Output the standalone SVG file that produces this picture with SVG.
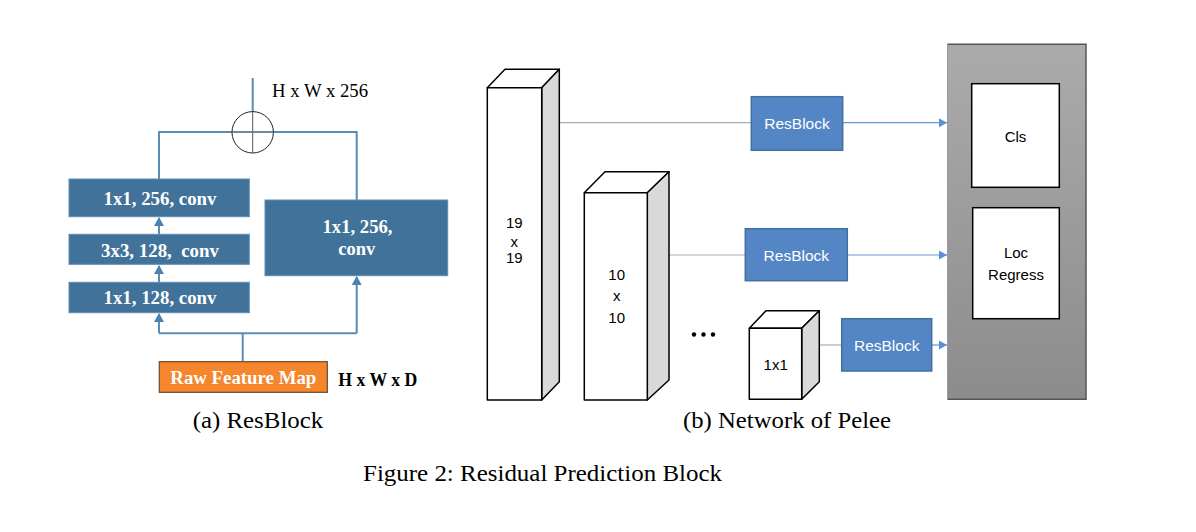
<svg xmlns="http://www.w3.org/2000/svg" width="1196" height="532" viewBox="0 0 1196 532">
<style>
.cv{fill:#41739A;stroke:#5F8DB3;stroke-width:1}
.cvt{font-family:"Liberation Serif",serif;font-weight:bold;font-size:18px;fill:#fff;text-anchor:middle}
.ln{fill:none;stroke:#5A8CB6;stroke-width:2}
.rb{fill:#5486C6;stroke:#41719C;stroke-width:1.5}
.rbt{font-family:"Liberation Sans",sans-serif;font-size:15.5px;fill:#fff;text-anchor:middle}
.cube{fill:#fff;stroke:#000;stroke-width:1.5;stroke-linejoin:round}
.side{fill:#D9D9D9;stroke:#000;stroke-width:1.5;stroke-linejoin:round}
.ct{font-family:"Liberation Sans",sans-serif;font-size:15px;fill:#000;text-anchor:middle}
.gl{fill:none;stroke:#A3AEBC;stroke-width:1.2}
.bl{fill:none;stroke:#6B96CF;stroke-width:1.2}
.cap{font-family:"Liberation Serif",serif;font-size:23.5px;fill:#000}
</style>
<defs>
<marker id="ah" markerWidth="10" markerHeight="10" refX="8" refY="5" orient="auto" markerUnits="userSpaceOnUse"><path d="M0,0 L9,5 L0,10 z" fill="#4E82AE"/></marker>
<marker id="ab" markerWidth="10" markerHeight="10" refX="8" refY="4.5" orient="auto" markerUnits="userSpaceOnUse"><path d="M0,0 L8,4.5 L0,9 z" fill="#5B8FD6"/></marker>
<linearGradient id="pg" x1="0" y1="0" x2="0" y2="1"><stop offset="0" stop-color="#ABABAB"/><stop offset="1" stop-color="#8C8C8C"/></linearGradient>
</defs>
<g id="connectors">
<line class="ln" x1="252.7" y1="78" x2="252.7" y2="112"/>
<polyline class="ln" points="159,179 159,132 356.7,132 356.7,200"/>
<line class="ln" x1="159" y1="234" x2="159" y2="218" marker-end="url(#ah)"/>
<line class="ln" x1="159" y1="282" x2="159" y2="266" marker-end="url(#ah)"/>
<polyline class="ln" points="242.7,361.7 242.7,333.3"/>
<polyline class="ln" points="159,333.3 356.7,333.3"/>
<line class="ln" x1="159" y1="333.3" x2="159" y2="314" marker-end="url(#ah)"/>
<line class="ln" x1="356.7" y1="333.3" x2="356.7" y2="277" marker-end="url(#ah)"/>
<line class="gl" x1="559.3" y1="122.7" x2="751.3" y2="122.7"/>
<line class="gl" x1="669" y1="255" x2="745.3" y2="255"/>
<line class="gl" x1="819.3" y1="345" x2="841.7" y2="345"/>
<line class="bl" x1="842.7" y1="122.7" x2="947" y2="122.7" marker-end="url(#ab)"/>
<line class="bl" x1="847.3" y1="255" x2="947" y2="255" marker-end="url(#ab)"/>
<line class="bl" x1="931.7" y1="345" x2="947" y2="345" marker-end="url(#ab)"/>
</g>
<g id="sum">
<circle cx="252.7" cy="132.3" r="20.7" fill="none" stroke="#222" stroke-width="1"/>
<line x1="252.7" y1="111.6" x2="252.7" y2="153" stroke="#555" stroke-width="1"/>
<line x1="232" y1="132.3" x2="273.4" y2="132.3" stroke="#888" stroke-width="1"/>
</g>
<text x="272" y="97.3" font-family="Liberation Serif,serif" font-size="18.5" fill="#000" textLength="96" lengthAdjust="spacingAndGlyphs">H x W x 256</text>
<g id="conv1"><rect class="cv" x="69" y="179" width="180.3" height="37.7"/><text class="cvt" x="160" y="205" textLength="113" lengthAdjust="spacingAndGlyphs">1x1, 256, conv</text></g>
<g id="conv2"><rect class="cv" x="69" y="234.3" width="180.3" height="30"/><text class="cvt" x="160" y="256.5" xml:space="preserve" textLength="118" lengthAdjust="spacingAndGlyphs">3x3, 128,  conv</text></g>
<g id="conv3"><rect class="cv" x="69" y="282.3" width="180.3" height="30.4"/><text class="cvt" x="160" y="304.3" textLength="113" lengthAdjust="spacingAndGlyphs">1x1, 128, conv</text></g>
<g id="conv4"><rect class="cv" x="265" y="200" width="182.7" height="75.7"/><text class="cvt" x="357.5" y="233.3" textLength="70" lengthAdjust="spacingAndGlyphs">1x1, 256,</text><text class="cvt" x="356.7" y="255" textLength="37" lengthAdjust="spacingAndGlyphs">conv</text></g>
<g id="raw"><rect x="159.3" y="361.7" width="168" height="30.6" fill="#F5862C" stroke="#6B4A2C" stroke-width="1.2"/><text class="cvt" x="243.3" y="383.5" textLength="146" lengthAdjust="spacingAndGlyphs">Raw Feature Map</text></g>
<text x="338.3" y="386" font-family="Liberation Serif,serif" font-weight="bold" font-size="18" fill="#000" textLength="79" lengthAdjust="spacingAndGlyphs">H x W x D</text>
<g id="f19">
<polygon class="cube" points="487.3,87.7 505,69.3 559.3,69.3 541.7,87.7"/>
<polygon class="side" points="541.7,87.7 559.3,69.3 559.3,381.7 541.7,400"/>
<rect class="cube" x="487.3" y="87.7" width="54.4" height="312.3"/>
<text class="ct" x="514.3" y="228">19</text><text class="ct" x="514.3" y="247">x</text><text class="ct" x="514.3" y="263">19</text>
</g>
<g id="f10">
<polygon class="cube" points="584.3,192.7 605,171.7 669,171.7 647.3,192.7"/>
<polygon class="side" points="647.3,192.7 669,171.7 669,380 647.3,400"/>
<rect class="cube" x="584.3" y="192.7" width="63" height="207.3"/>
<text class="ct" x="616.7" y="280">10</text><text class="ct" x="616.7" y="301">x</text><text class="ct" x="616.7" y="323">10</text>
</g>
<g id="dots" fill="#000"><circle cx="694" cy="334.5" r="2.2"/><circle cx="703.5" cy="334.5" r="2.2"/><circle cx="713" cy="334.5" r="2.2"/></g>
<g id="f1">
<polygon class="cube" points="749.3,328.3 766,310.7 819.3,310.7 801.7,328.3"/>
<polygon class="side" points="801.7,328.3 819.3,310.7 819.3,381.7 801.7,399.3"/>
<rect class="cube" x="749.3" y="328.3" width="52.4" height="71"/>
<text class="ct" x="775.7" y="370">1x1</text>
</g>
<g id="rb1"><rect class="rb" x="751.3" y="96.7" width="91.4" height="53.6"/><text class="rbt" x="797" y="129.3">ResBlock</text></g>
<g id="rb2"><rect class="rb" x="745.3" y="228.7" width="102" height="52"/><text class="rbt" x="796.3" y="260.7">ResBlock</text></g>
<g id="rb3"><rect class="rb" x="841.7" y="318.7" width="90" height="52.3"/><text class="rbt" x="886.7" y="350.7">ResBlock</text></g>
<g id="head">
<rect x="947.5" y="44.3" width="138.5" height="355" fill="url(#pg)"/>
<polyline points="947.5,44.3 1086,44.3 1086,399.3 947.5,399.3" fill="none" stroke="#555" stroke-width="1.5"/>
<line x1="947.5" y1="44.3" x2="947.5" y2="399.3" stroke="#999" stroke-width="1"/>
</g>
<g id="cls"><rect x="971.7" y="83.7" width="87.6" height="103.6" fill="#fff" stroke="#000" stroke-width="1.5"/><text class="ct" x="1015.5" y="141.7">Cls</text></g>
<g id="loc"><rect x="972.7" y="207.7" width="86.6" height="111" fill="#fff" stroke="#000" stroke-width="1.5"/><text class="ct" x="1016" y="258.3">Loc</text><text class="ct" x="1016" y="279.5">Regress</text></g>
<text class="cap" x="192.7" y="428" textLength="130.5" lengthAdjust="spacingAndGlyphs">(a) ResBlock</text>
<text class="cap" x="683" y="428" textLength="208" lengthAdjust="spacingAndGlyphs">(b) Network of Pelee</text>
<text class="cap" x="363" y="481" textLength="359" lengthAdjust="spacingAndGlyphs">Figure 2: Residual Prediction Block</text>
</svg>
